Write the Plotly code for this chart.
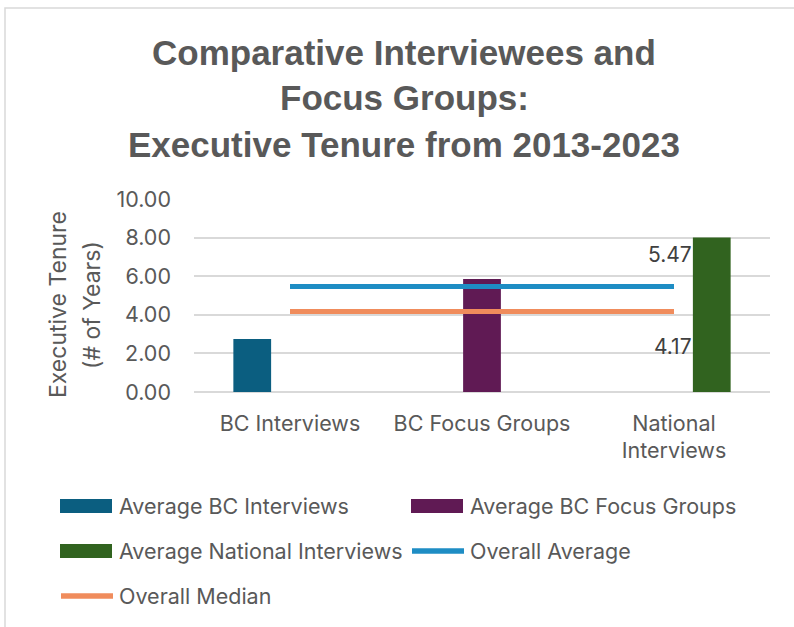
import plotly.graph_objects as go

# Categories and tick labels
categories = ["BC Interviews", "BC Focus Groups", "National Interviews"]
tick_labels = ["BC Interviews", "BC Focus Groups", "National<br>Interviews"]

# Average executive tenure (years) per group
bc_interviews = [2.74, None, None]
bc_focus_groups = [None, 5.85, None]
national_interviews = [None, None, 8.00]

# Overall reference lines
overall_average = [5.47, 5.47, 5.47]
overall_median = [4.17, 4.17, 4.17]

bar_names = ["Average BC Interviews", "Average BC Focus Groups", "Average National Interviews"]
line_names = ["Overall Average", "Overall Median"]

bar_colors = ["#0B5E80", "#601A54", "#31631F"]
line_colors = ["#1E8DC4", "#F08C5C"]

TEXT = "#595959"
GRID = "#D9D9D9"
FONT = "Inter, Liberation Sans, sans-serif"

W, H = 794, 627
L, R, T, B = 194, 24, 199, 235
PW, PH = W - L - R, H - T - B


def px_x(px):
    return (px - L) / PW


def px_y(py):
    return (H - B - py) / PH


fig = go.Figure()

for name, vals, col in zip(bar_names, [bc_interviews, bc_focus_groups, national_interviews], bar_colors):
    fig.add_trace(go.Bar(x=categories, y=vals, name=name, marker=dict(color=col, line=dict(width=0)),
                         showlegend=False))

for name, vals, col in zip(line_names, [overall_average, overall_median], line_colors):
    fig.add_trace(go.Scatter(x=categories, y=vals, name=name, mode="lines",
                             line=dict(color=col, width=5), showlegend=False))

annotations = []

# value labels at the end of the reference lines
for vals, shift in [(overall_average, 32), (overall_median, -35)]:
    annotations.append(dict(x=categories[-1], y=vals[-1], xref="x", yref="y", text=f"{vals[-1]:.2f}",
                            showarrow=False, xanchor="right", yanchor="middle", xshift=20, yshift=shift,
                            font=dict(family=FONT, size=21, color="#404040")))

# chart title
title_lines = ["Comparative Interviewees and", "Focus Groups:", "Executive Tenure from 2013-2023"]
for i, line in enumerate(title_lines):
    annotations.append(dict(x=px_x(404), y=px_y(52 + i * 46), xref="paper", yref="paper", text=f"<b>{line}</b>",
                            showarrow=False, xanchor="center", yanchor="middle",
                            font=dict(family="Liberation Sans, Arial, sans-serif", size=35, color=TEXT)))

# y-axis title (two rotated lines)
for text, cx in [("Executive Tenure", 58), ("(# of Years)", 92)]:
    annotations.append(dict(x=px_x(cx), y=px_y(305), xref="paper", yref="paper", text=text, textangle=-90,
                            showarrow=False, xanchor="center", yanchor="middle",
                            font=dict(family=FONT, size=23, color=TEXT)))

# legend
shapes = []
legend_items = [
    ("bar", bar_names[0], bar_colors[0], 60, 506),
    ("bar", bar_names[1], bar_colors[1], 411, 506),
    ("bar", bar_names[2], bar_colors[2], 60, 551),
    ("line", line_names[0], line_colors[0], 411, 551),
    ("line", line_names[1], line_colors[1], 60, 596),
]
for kind, name, col, x0, cy in legend_items:
    if kind == "bar":
        shapes.append(dict(type="rect", xref="paper", yref="paper", x0=px_x(x0), x1=px_x(x0 + 52),
                           y0=px_y(cy + 7), y1=px_y(cy - 7), fillcolor=col, line=dict(width=0)))
    else:
        shapes.append(dict(type="line", xref="paper", yref="paper", x0=px_x(x0 + 1), x1=px_x(x0 + 53),
                           y0=px_y(cy), y1=px_y(cy), line=dict(color=col, width=5.5)))
    annotations.append(dict(x=px_x(x0 + 57), y=px_y(cy), xref="paper", yref="paper", text=name,
                            showarrow=False, xanchor="left", yanchor="middle",
                            font=dict(family=FONT, size=21.5, color=TEXT)))

# chart-area border
shapes.append(dict(type="rect", xref="paper", yref="paper", x0=px_x(5), x1=px_x(W + 10),
                   y0=px_y(H + 10), y1=px_y(8), line=dict(color=GRID, width=1.5), layer="below"))

fig.update_layout(
    width=W, height=H,
    margin=dict(l=L, r=R, t=T, b=B),
    paper_bgcolor="white", plot_bgcolor="white",
    barmode="group", bargap=0.41, bargroupgap=0.0,
    showlegend=False,
    annotations=annotations,
    shapes=shapes,
    font=dict(family=FONT, color=TEXT),
)

fig.update_xaxes(
    type="category", categoryorder="array", categoryarray=categories,
    tickmode="array", tickvals=categories, ticktext=tick_labels,
    tickfont=dict(family=FONT, size=21.5, color=TEXT),
    showgrid=False, zeroline=False, showline=False, ticks="",
    ticklabelstandoff=16,
)

fig.update_yaxes(
    range=[0, 10], tickmode="array", tickvals=[0, 2, 4, 6, 8, 10],
    tickformat=".2f",
    tickfont=dict(family=FONT, size=21.5, color=TEXT),
    showgrid=True, gridcolor=GRID, gridwidth=1.5,
    zeroline=True, zerolinecolor=GRID, zerolinewidth=1.5,
    showline=False, ticks="", ticklabelstandoff=22,
)

fig.write_html("out.html")
